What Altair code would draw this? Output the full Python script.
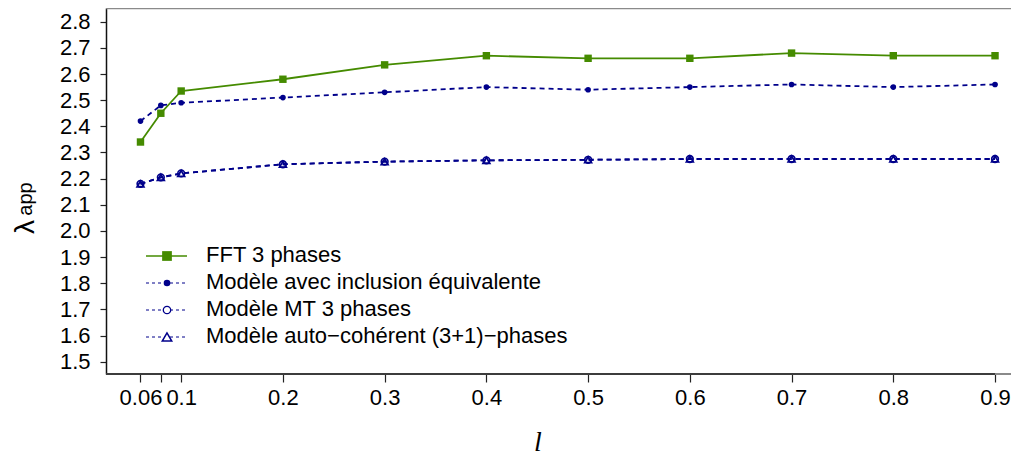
import altair as alt
import pandas as pd

# ---- data ----
l_values = [0.06, 0.08, 0.1, 0.2, 0.3, 0.4, 0.5, 0.6, 0.7, 0.8, 0.9]
fft_3_phases = [2.34, 2.45, 2.535, 2.58, 2.635, 2.67, 2.66, 2.66, 2.68, 2.67, 2.67]
inclusion_equiv = [2.42, 2.48, 2.49, 2.51, 2.53, 2.55, 2.54, 2.55, 2.56, 2.55, 2.56]
mt_3_phases = [2.18, 2.205, 2.22, 2.255, 2.265, 2.27, 2.272, 2.275, 2.275, 2.275, 2.275]
auto_coherent = [2.18, 2.205, 2.22, 2.255, 2.265, 2.27, 2.272, 2.275, 2.275, 2.275, 2.275]

series_names = [
    "FFT 3 phases",
    "Modèle avec inclusion équivalente",
    "Modèle MT 3 phases",
    "Modèle auto\u2212cohérent (3+1)\u2212phases",
]
y_ticks = [1.5, 1.6, 1.7, 1.8, 1.9, 2.0, 2.1, 2.2, 2.3, 2.4, 2.5, 2.6, 2.7, 2.8]
x_ticks = [0.06, 0.08, 0.1, 0.2, 0.3, 0.4, 0.5, 0.6, 0.7, 0.8, 0.9]

GREEN = "#458B00"
BLUE = "#00008B"
FONT = "Liberation Sans"
W, H = 905, 366

xscale = alt.Scale(domain=[0.0261, 0.9157], nice=False, zero=False)
yscale = alt.Scale(domain=[1.453, 2.8524], nice=False, zero=False)

xaxis = alt.Axis(
    values=x_ticks, title=None, domain=False, ticks=True, tickSize=8, tickColor="#222",
    tickWidth=1.2, labelFontSize=22, labelColor="black", labelPadding=5, grid=False,
    labelOverlap=False, labelFlush=False, labelBound=False, labelFont=FONT,
    labelExpr="datum.value > 0.07 && datum.value < 0.09 ? '' : toString(datum.value)",
)
yaxis = alt.Axis(
    values=y_ticks, title=None, format=".1f", domain=True, domainColor="#111",
    domainWidth=1.5, tickSize=6, tickColor="#222", tickWidth=1.2, labelFontSize=22,
    labelColor="black", labelPadding=10, grid=False, labelFont=FONT,
    labelOverlap=False, labelFlush=False, labelBound=False,
)


def X(field):
    return alt.X(field, scale=xscale, axis=xaxis)


def Y(field):
    return alt.Y(field, scale=yscale, axis=yaxis)


def frame(values):
    return pd.DataFrame({"l": l_values, "v": values})


def series_layer(values, color, dash, shape, size, filled, sw):
    df = frame(values)
    line_kw = dict(color=color, strokeWidth=1.8)
    if dash:
        line_kw["strokeDash"] = dash
    line = alt.Chart(df).mark_line(**line_kw).encode(x=X("l:Q"), y=Y("v:Q"))
    if filled:
        pts = alt.Chart(df).mark_point(shape=shape, size=size, filled=True, color=color, opacity=1)
    else:
        pts = alt.Chart(df).mark_point(shape=shape, size=size, filled=False, color=color,
                                       strokeWidth=sw, opacity=1)
    pts = pts.encode(x=X("l:Q"), y=Y("v:Q"))
    return line + pts


layers = []
layers.append(series_layer(fft_3_phases, GREEN, None, "square", 55, True, 1))
layers.append(series_layer(inclusion_equiv, BLUE, [5, 4], "circle", 32, True, 1))
layers.append(series_layer(mt_3_phases, BLUE, [5, 4], "circle", 45, False, 1.6))
layers.append(series_layer(auto_coherent, BLUE, [5, 4], "triangle-up", 45, False, 1.8))

# frame lines (top grey, bottom grey beyond the axis, black bottom axis line)
frame_df = pd.DataFrame({"a": [0]})
top_line = alt.Chart(frame_df).mark_rule(color="#8a8a8a", strokeWidth=2.5).encode(
    x=alt.value(0), x2=alt.value(W), y=alt.value(0))
bottom_grey = alt.Chart(frame_df).mark_rule(color="#8a8a8a", strokeWidth=2).encode(
    x=alt.value(0), x2=alt.value(W), y=alt.value(H))
axis_df = pd.DataFrame({"x0": [0.0261], "x1": [x_ticks[-1]]})
bottom_axis = alt.Chart(axis_df).mark_rule(color="#222", strokeWidth=1.5).encode(
    x=X("x0:Q"), x2="x1:Q", y=alt.value(H))

# legend (drawn manually, R style)
legend_rows = [248, 275, 302, 329]
legend_layers = []
leg_specs = [
    (GREEN, None, "square", 95, True, 1.5),
    (BLUE, [3, 3], "circle", 44, True, 1),
    (BLUE, [3, 3], "circle", 55, False, 1.3),
    (BLUE, [3, 3], "triangle-up", 90, False, 1.5),
]
for name, yy, (col, dash, shp, sz, fil, sw) in zip(series_names, legend_rows, leg_specs):
    d = pd.DataFrame({"label": [name]})
    rk = dict(color=col, strokeWidth=1.4 if dash is None else 1.0)
    if dash:
        rk["strokeDash"] = dash
    legend_layers.append(alt.Chart(d).mark_rule(**rk).encode(
        x=alt.value(40), x2=alt.value(81), y=alt.value(yy)))
    if fil:
        pm = alt.Chart(d).mark_point(shape=shp, size=sz, filled=True, color=col, opacity=1)
    else:
        pm = alt.Chart(d).mark_point(shape=shp, size=sz, filled=False, color=col,
                                     strokeWidth=sw, opacity=1, fill="white", fillOpacity=1)
    legend_layers.append(pm.encode(x=alt.value(61), y=alt.value(yy)))
    legend_layers.append(alt.Chart(d).mark_text(
        align="left", baseline="middle", fontSize=22, font=FONT, color="black").encode(
        x=alt.value(100), y=alt.value(yy - 1), text="label:N"))

# axis titles
title_df = pd.DataFrame({"lam": ["λ"], "sub": ["app"], "xl": ["l"]})
lam = alt.Chart(title_df).mark_text(angle=270, align="center", baseline="alphabetic",
                                    fontSize=28, font=FONT, color="black").encode(
    x=alt.value(-72), y=alt.value(219), text="lam:N")
sub = alt.Chart(title_df).mark_text(angle=270, align="center", baseline="alphabetic",
                                    fontSize=20, font=FONT, color="black").encode(
    x=alt.value(-74), y=alt.value(191), text="sub:N")
xl = alt.Chart(title_df).mark_text(align="center", baseline="alphabetic", fontSize=28,
                                   font="Liberation Serif", fontStyle="italic",
                                   color="black").encode(
    x=alt.value(432), y=alt.value(443), text="xl:N")

chart = alt.layer(
    *layers, top_line, bottom_grey, bottom_axis, *legend_layers, lam, sub, xl
).properties(
    width=W, height=H,
    autosize=alt.AutoSizeParams(type="none"),
    padding={"left": 98, "top": 0, "right": 0, "bottom": 86},
).configure_view(stroke=None).configure(font=FONT)

chart.save("out.html", embed_options={"renderer": "svg", "actions": False})
